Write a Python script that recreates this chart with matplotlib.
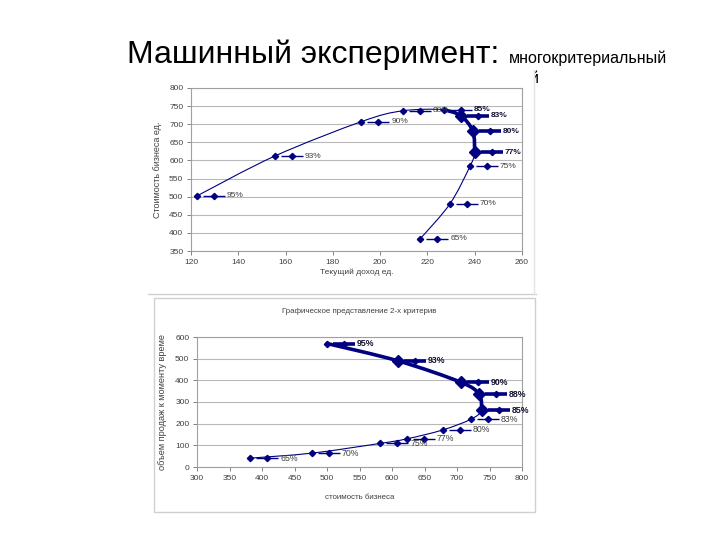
import matplotlib
matplotlib.use("Agg")
import matplotlib.pyplot as plt
from matplotlib.path import Path
from matplotlib.patches import PathPatch, Rectangle
from matplotlib.lines import Line2D
from matplotlib.transforms import offset_copy
import numpy as np

plt.rcParams['font.family'] = ['Liberation Sans', 'DejaVu Sans']

W, H = 720, 540
NAVY = '#000080'
TXT = '#404040'

pct = ['95%', '93%', '90%', '88%', '85%', '83%', '80%', '77%', '75%', '70%', '65%']

# chart 1: Текущий доход vs Стоимость бизнеса
c1_x = [122.5, 155.4, 192, 209.5, 227, 234, 239.2, 240, 238, 229.5, 217]
c1_y = [502, 612, 707, 737, 740, 724, 681, 623, 584, 480, 384]
c1_thick = [4, 7]          # first/last index of the thick piece
c1_big = [5, 6, 7]
c1_bold = [4, 5, 6, 7]
c1_xticks = [120, 140, 160, 180, 200, 220, 240, 260]
c1_yticks = [350, 400, 450, 500, 550, 600, 650, 700, 750, 800]

# chart 2: стоимость бизнеса vs объем продаж
c2_x = [500, 609, 706, 734, 738, 721, 678, 623, 582, 477, 382]
c2_y = [570, 490, 391, 335, 263, 220, 171, 130, 109, 64, 41]
c2_thick = [0, 4]
c2_big = [1, 2, 3, 4]
c2_bold = [0, 1, 2, 3, 4]
c2_xticks = [300, 350, 400, 450, 500, 550, 600, 650, 700, 750, 800]
c2_yticks = [0, 100, 200, 300, 400, 500, 600]


def smooth_path(xs, ys):
    # Catmull-Rom style bezier like Excel smoothed lines
    p = np.column_stack([xs, ys]).astype(float)
    verts = [p[0]]
    codes = [Path.MOVETO]
    n = len(p)
    for i in range(n - 1):
        p0 = p[i - 1] if i > 0 else p[i]
        p3 = p[i + 2] if i + 2 < n else p[i + 1]
        c1 = p[i] + (p[i + 1] - p0) / 6
        c2 = p[i + 1] - (p3 - p[i]) / 6
        verts += [c1, c2, p[i + 1]]
        codes += [Path.CURVE4] * 3
    return Path(verts, codes)


def draw_chart(ax, xs, ys, thick, big, bold, first_thick, fs):
    n = len(xs)
    a, b = thick
    ax.add_patch(PathPatch(smooth_path(xs, ys), fill=False, ec=NAVY, lw=0.8, zorder=3))
    ax.add_patch(PathPatch(smooth_path(xs[a:b + 1], ys[a:b + 1]), fill=False,
                           ec=NAVY, lw=2.6, zorder=4, capstyle='round', joinstyle='round'))
    tr_m = offset_copy(ax.transData, fig=ax.figure, x=17, y=0, units='dots')
    tr_t = offset_copy(ax.transData, fig=ax.figure, x=30, y=0, units='dots')
    for i in range(n):
        ms = 6.5 if i in big else 3.2
        ax.plot(xs[i], ys[i], marker='D', ms=ms, color=NAVY, zorder=5)
        hl = i in bold
        seg_w = 2.6 if (i in big or (i == 0 and first_thick)) else 1.0
        ax.plot(xs[i], ys[i], marker='_', ms=16, mew=seg_w, color=NAVY,
                transform=tr_m, zorder=5)
        ax.plot(xs[i], ys[i], marker='D', ms=3.2, color=NAVY, transform=tr_m, zorder=6)
        ax.text(xs[i], ys[i], pct[i], transform=tr_t, va='center', ha='left',
                fontsize=fs, color='#111133' if hl else TXT,
                fontweight='bold' if hl else 'normal', zorder=6)


def style_axes(ax, xt, yt):
    ax.set_xticks(xt)
    ax.set_yticks(yt)
    ax.set_xlim(xt[0], xt[-1])
    ax.set_ylim(yt[0], yt[-1])
    ax.grid(axis='y', color='#b8b8b8', lw=0.8)
    ax.set_axisbelow(True)
    for s in ax.spines.values():
        s.set_color('#a0a0a0')
        s.set_linewidth(0.8)
    ax.tick_params(direction='out', length=3, width=0.7, color='#808080',
                   labelsize=6, labelcolor=TXT, pad=2.5)


fig = plt.figure(figsize=(W / 100, H / 100), dpi=100)

# title line
fig.text(127 / W, 1 - 63 / H, 'Машинный эксперимент:', fontsize=23,
         va='baseline', ha='left', color='black')
fig.text(509 / W, 1 - 63 / H, 'многокритериальный', fontsize=11.5,
         va='baseline', ha='left', color='black')
fig.text(530 / W, 1 - 83 / H, 'й', fontsize=11.5, va='baseline', ha='left',
         color='black', zorder=1)

# picture frames
fig.patches.append(Rectangle((148 / W, 1 - 294 / H), (534 - 148) / W, (294 - 68) / H,
                             transform=fig.transFigure, fc='white', ec='none', zorder=2))
fig.lines.append(Line2D([148 / W, 536 / W], [1 - 294 / H, 1 - 294 / H],
                        transform=fig.transFigure, color='#d0d0d0', lw=1, zorder=3))
fig.lines.append(Line2D([534 / W, 534 / W], [1 - 70 / H, 1 - 294 / H],
                        transform=fig.transFigure, color='#e4e4e4', lw=1, zorder=3))
fig.patches.append(Rectangle((154 / W, 1 - 512 / H), (535 - 154) / W, (512 - 298) / H,
                             transform=fig.transFigure, fc='white', ec='#d0d0d0',
                             lw=1, zorder=2))

ax1 = fig.add_axes([191 / W, 1 - 251 / H, (522 - 191) / W, (251 - 88) / H], zorder=5)
style_axes(ax1, c1_xticks, c1_yticks)
draw_chart(ax1, c1_x, c1_y, c1_thick, c1_big, c1_bold, False, 6)
ax1.set_xlabel('Текущий доход ед.', fontsize=6, color=TXT, labelpad=2)
ax1.set_ylabel('Стоимость бизнеса ед.', fontsize=6.5, color=TXT, labelpad=5)

ax2 = fig.add_axes([197 / W, 1 - 467 / H, (522 - 197) / W, (467 - 337) / H], zorder=5)
style_axes(ax2, c2_xticks, c2_yticks)
draw_chart(ax2, c2_x, c2_y, c2_thick, c2_big, c2_bold, True, 6.3)
ax2.set_xlabel('стоимость бизнеса', fontsize=5.7, color=TXT, labelpad=9)
ax2.set_ylabel('объем продаж к моменту време', fontsize=6.6, color=TXT, labelpad=6)
ax2.set_title('Графическое представление 2-х критерив', fontsize=5.7, color=TXT, pad=17)

fig.savefig('out.png', dpi=100)
